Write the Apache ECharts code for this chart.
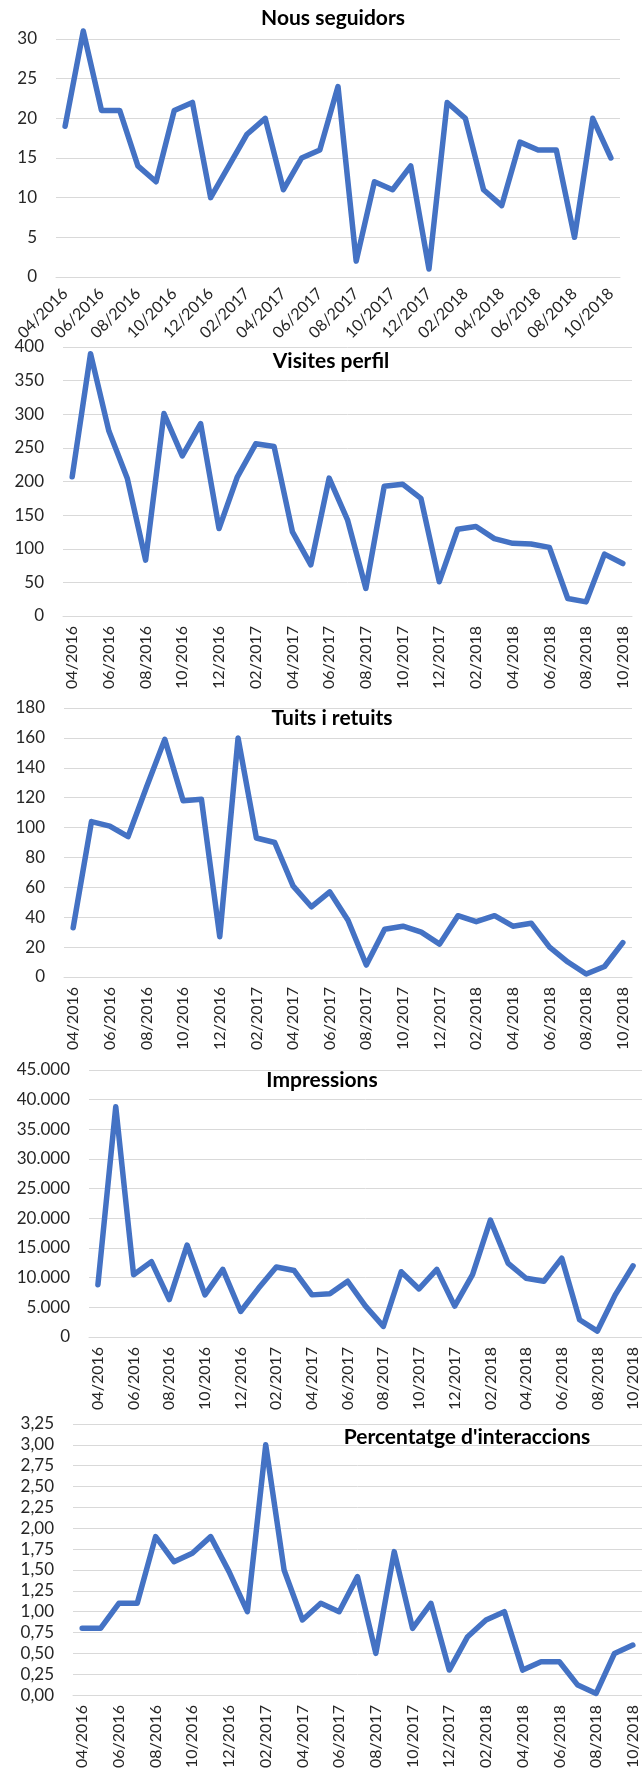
<!DOCTYPE html>
<html>
<head>
<meta charset="utf-8">
<title>Twitter</title>
<script src="https://cdn.jsdelivr.net/npm/echarts@6/dist/echarts.min.js"></script>
<style>
  html, body { margin: 0; padding: 0; background: #fff; }
  #main { width: 642px; height: 1771px; }
</style>
</head>
<body>
<div id="main"></div>
<script>
// mesos (04/2016 - 10/2018)
var months = ['04/2016', '05/2016', '06/2016', '07/2016', '08/2016', '09/2016', '10/2016', '11/2016', '12/2016',
  '01/2017', '02/2017', '03/2017', '04/2017', '05/2017', '06/2017', '07/2017', '08/2017', '09/2017', '10/2017', '11/2017', '12/2017',
  '01/2018', '02/2018', '03/2018', '04/2018', '05/2018', '06/2018', '07/2018', '08/2018', '09/2018', '10/2018'];

var nousSeguidors = [19, 31, 21, 21, 14, 12, 21, 22, 10, 14, 18, 20, 11, 15, 16, 24, 2, 12, 11, 14, 1, 22, 20, 11, 9, 17, 16, 16, 5, 20, 15];
var visitesPerfil = [207, 390, 275, 205, 83, 301, 238, 286, 130, 207, 256, 252, 125, 76, 205, 143, 41, 193, 196, 175, 51, 129, 133, 115, 108, 107, 102, 26, 21, 92, 78];
var tuits = [33, 104, 101, 94, 127, 159, 118, 119, 27, 160, 93, 90, 61, 47, 57, 38, 8, 32, 34, 30, 22, 41, 37, 41, 34, 36, 20, 10, 2, 7, 23];
var impressions = [8800, 38800, 10500, 12700, 6300, 15500, 7100, 11400, 4300, 8200, 11800, 11200, 7100, 7300, 9400, 5200, 1800,
  11000, 8100, 11400, 5200, 10500, 19700, 12400, 9900, 9400, 13300, 2900, 1000, 7100, 12000];
var interaccions = [0.80, 0.80, 1.10, 1.10, 1.90, 1.60, 1.70, 1.90, 1.48, 1.00, 3.00, 1.50, 0.90, 1.10, 1.00, 1.42, 0.50,
  1.72, 0.80, 1.10, 0.30, 0.70, 0.90, 1.00, 0.30, 0.40, 0.40, 0.12, 0.02, 0.50, 0.60];

var titles = ['Nous seguidors', 'Visites perfil', 'Tuits i retuits', 'Impressions', "Percentatge d'interaccions"];

var FONT = 'Lato, "Open Sans", sans-serif';
var BLUE = '#4472C4';
var GRID = '#d9d9d9';
var TXT = '#262626';

// posicio de cada grafic (px)
var grids = [
  { left: 56, right: 22, top: 39, height: 238 },
  { left: 63, right: 10, top: 347, height: 269 },
  { left: 64, right: 10, top: 708, height: 269 },
  { left: 89, right: 0, top: 1070, height: 267 },
  { left: 73, right: 0, top: 1424, height: 274 }
];
var titlePos = [[333, 8], [331, 351], [332, 708], [322, 1070], [467, 1427]];
var yMax = [30, 400, 180, 45000, 3.25];
var yStep = [5, 50, 20, 5000, 0.25];
var allData = [nousSeguidors, visitesPerfil, tuits, impressions, interaccions];

function milers(v) {
  return String(v).replace(/\B(?=(\d{3})+(?!\d))/g, '.');
}
function decimal(v) {
  return v.toFixed(2).replace('.', ',');
}

var xAxis = [], yAxis = [], series = [], title = [];
allData.forEach(function (d, i) {
  xAxis.push({
    type: 'category',
    gridIndex: i,
    data: months,
    boundaryGap: true,
    axisTick: { show: false },
    axisLine: { lineStyle: { color: GRID, width: 1 } },
    axisLabel: {
      interval: 1,
      rotate: i === 0 ? 45 : 90,
      margin: i === 0 ? 14 : 10,
      fontSize: 16,
      fontFamily: FONT,
      color: TXT
    }
  });
  yAxis.push({
    type: 'value',
    gridIndex: i,
    min: 0,
    max: yMax[i],
    interval: yStep[i],
    axisLine: { show: false },
    axisTick: { show: false },
    splitLine: { lineStyle: { color: GRID, width: 1 } },
    axisLabel: {
      margin: 19,
      fontSize: 17,
      fontFamily: FONT,
      color: TXT,
      formatter: i === 3 ? milers : (i === 4 ? decimal : null)
    }
  });
  series.push({
    type: 'line',
    xAxisIndex: i,
    yAxisIndex: i,
    data: d,
    symbol: 'none',
    clip: false,
    lineStyle: { color: BLUE, width: 5.5, join: 'round', cap: 'round' }
  });
  title.push({
    text: titles[i],
    left: titlePos[i][0],
    top: titlePos[i][1],
    textAlign: 'center',
    padding: 0,
    textStyle: { fontFamily: FONT, fontWeight: 'bold', fontSize: 21, color: '#000' }
  });
});

var myChart = echarts.init(document.getElementById('main'));
myChart.setOption({
  backgroundColor: '#fff',
  animation: false,
  title: title,
  grid: grids,
  xAxis: xAxis,
  yAxis: yAxis,
  series: series
});
</script>
</body>
</html>
